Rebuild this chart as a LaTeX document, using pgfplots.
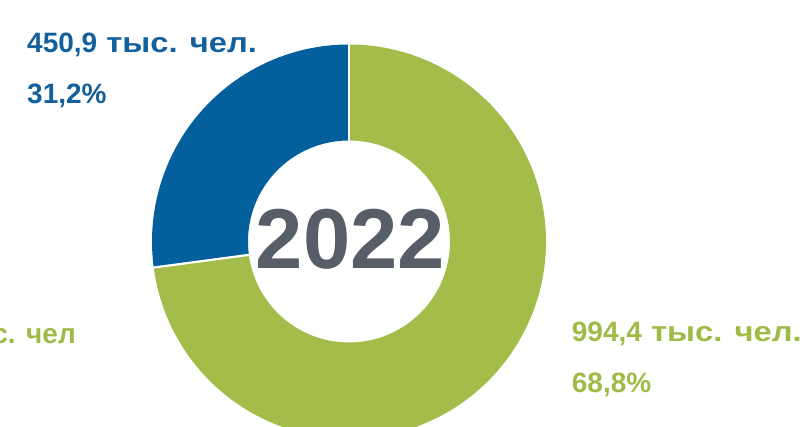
\documentclass[border=0pt]{standalone}
\usepackage{pgfplots}
\pgfplotsset{compat=1.18}
\usepackage{pgfplotstable}
\usepackage{fontspec}
\setmainfont{Liberation Sans}
\newfontfamily\cyrw[FakeStretch=1.17]{Liberation Sans}
\definecolor{cblue}{HTML}{03609D}
\definecolor{cgreen}{HTML}{A4BC4A}
\definecolor{tblue}{HTML}{14609C}
\definecolor{tgreen}{HTML}{A0BA48}
\definecolor{cgray}{HTML}{585E68}
% slice angles (degrees, counter-clockwise from 12 o'clock)
\pgfplotstableread{
start end
90 187.6
187.6 450
}\slices
\begin{document}
\begin{tikzpicture}
\useasboundingbox (0,0) rectangle (804pt,427pt);
\begin{scope}
\clip (0,0) rectangle (804pt,427pt);
\begin{axis}[x=1pt,y=1pt,xmin=0,xmax=804,ymin=0,ymax=427,
  hide axis, scale only axis, anchor=origin, at={(0,0)}, clip=false]
\pgfplotstablegetelem{0}{start}\of\slices \let\aA\pgfplotsretval
\pgfplotstablegetelem{0}{end}\of\slices \let\aB\pgfplotsretval
\pgfplotstablegetelem{1}{start}\of\slices \let\bA\pgfplotsretval
\pgfplotstablegetelem{1}{end}\of\slices \let\bB\pgfplotsretval
\fill[cblue] ([shift={(\aA:197pt)}]axis cs:349,185.5) arc[start angle=\aA,end angle=\aB,radius=197pt]
  -- ([shift={(\aB:101pt)}]axis cs:349,185.5) arc[start angle=\aB,end angle=\aA,radius=101pt] -- cycle;
\fill[cgreen] ([shift={(\bA:197pt)}]axis cs:349,185.5) arc[start angle=\bA,end angle=\bB,radius=197pt]
  -- ([shift={(\bB:101pt)}]axis cs:349,185.5) arc[start angle=\bB,end angle=\bA,radius=101pt] -- cycle;
\draw[white,line width=2.2pt] ([shift={(\aA:99pt)}]axis cs:349,185.5) -- ([shift={(\aA:199pt)}]axis cs:349,185.5);
\draw[white,line width=2.2pt] ([shift={(\aB:99pt)}]axis cs:349,185.5) -- ([shift={(\aB:199pt)}]axis cs:349,185.5);
\node[anchor=base,inner sep=0,text=cgray,font=\fontsize{85}{85}\selectfont\bfseries] at (axis cs:350.5,158) {2022};
\node[anchor=base west,inner sep=0,text=tblue,font=\fontsize{28}{28}\selectfont\bfseries] at (axis cs:27,374.3) {450,9{\cyrw\bfseries\ тыс. чел.}};
\node[anchor=base west,inner sep=0,text=tblue,font=\fontsize{28}{28}\selectfont\bfseries] at (axis cs:27,323.7) {31,2\%};
\node[anchor=base west,inner sep=0,text=tgreen,font=\fontsize{28}{28}\selectfont\bfseries] at (axis cs:571.7,85.3) {994,4{\cyrw\bfseries\ тыс. чел.}};
\node[anchor=base west,inner sep=0,text=tgreen,font=\fontsize{28}{28}\selectfont\bfseries] at (axis cs:571.7,34) {68,8\%};
\node[anchor=base east,inner sep=0,text=tgreen,font=\fontsize{28}{28}\selectfont\bfseries] at (axis cs:76,83) {1001,2 тыс. чел};
\end{axis}
\end{scope}
\end{tikzpicture}
\end{document}
